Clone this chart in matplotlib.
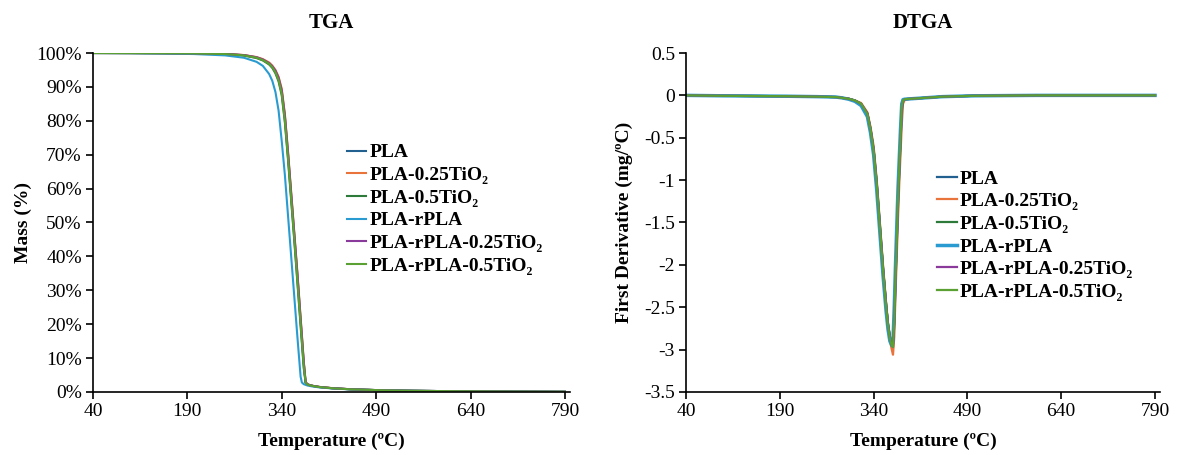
import matplotlib
matplotlib.use('Agg')
import matplotlib.pyplot as plt
from matplotlib.ticker import FuncFormatter

plt.rcParams['font.family'] = ['Liberation Serif', 'DejaVu Serif']
plt.rcParams['axes.unicode_minus'] = False

LABELS = ['PLA', 'PLA-0.25TiO₂', 'PLA-0.5TiO₂', 'PLA-rPLA',
          'PLA-rPLA-0.25TiO₂', 'PLA-rPLA-0.5TiO₂']
COLORS = ['#21608f', '#e8743b', '#2d7a3a', '#2a9bd0', '#8a3a9a', '#5aa032']

# TGA: temperature (C) and residual mass (%)
T_TGA = [40, 100, 150, 200, 250, 280, 300, 310, 320, 325, 330, 335, 340, 345,
         350, 355, 360, 365, 370, 372, 375, 378, 381, 385, 390, 400, 420, 450,
         500, 550, 600, 700, 790]
mass_pla = [100, 99.98, 99.95, 99.9, 99.72, 99.35, 98.7, 98.0, 96.9, 95.9, 94.5,
            92.3, 88.5, 81, 70, 58, 46, 34, 21, 16, 8.5, 2.8, 2.25, 2.0, 1.78,
            1.48, 1.12, 0.8, 0.5, 0.35, 0.25, 0.12, 0.05]
mass_pla_025 = [100, 99.98, 99.95, 99.9, 99.75, 99.4, 98.8, 98.2, 97.2, 96.3, 95,
                93, 89.5, 82, 71, 59, 47, 35, 22, 17, 9, 2.9, 2.3, 2.0, 1.8, 1.5,
                1.15, 0.8, 0.5, 0.35, 0.25, 0.12, 0.05]
mass_pla_05 = [100, 99.98, 99.94, 99.87, 99.68, 99.25, 98.5, 97.8, 96.6, 95.6, 94,
               91.6, 87.5, 79.5, 68.5, 56.5, 44.5, 32, 19.5, 14.5, 7, 2.7, 2.2,
               1.95, 1.75, 1.45, 1.1, 0.78, 0.5, 0.35, 0.25, 0.12, 0.05]
mass_rpla = [100, 99.95, 99.85, 99.7, 99.3, 98.6, 97.4, 96.2, 93.8, 91.8, 88.5, 83,
             74, 64, 52, 40, 28, 16, 4.5, 2.8, 2.3, 2.1, 1.9, 1.75, 1.6, 1.35,
             1.05, 0.75, 0.5, 0.35, 0.25, 0.12, 0.05]
mass_rpla_025 = [100, 99.98, 99.95, 99.9, 99.73, 99.38, 98.75, 98.1, 97.0, 96.1,
                 94.8, 92.7, 89, 81.5, 70.5, 58.5, 46.5, 34.5, 21.5, 16.5, 8.8,
                 2.85, 2.25, 2.0, 1.78, 1.48, 1.12, 0.8, 0.5, 0.35, 0.25, 0.12,
                 0.05]
mass_rpla_05 = [100, 99.98, 99.95, 99.88, 99.7, 99.3, 98.6, 97.9, 96.8, 95.8, 94.3,
                92, 88, 80, 69, 57, 45, 32.5, 20, 15, 7.5, 2.7, 2.2, 1.95, 1.75,
                1.45, 1.1, 0.78, 0.5, 0.35, 0.25, 0.12, 0.05]

# DTGA: first derivative (mg/C)
T_DTGA = [40, 100, 200, 250, 280, 290, 300, 310, 320, 330, 335, 340, 345, 350,
          355, 360, 363, 366, 369, 371, 373, 375, 377, 379, 381, 383, 385, 387,
          390, 400, 420, 450, 500, 600, 700, 790]
d_pla = [0, -0.005, -0.01, -0.015, -0.02, -0.03, -0.04, -0.06, -0.1, -0.22, -0.4,
         -0.66, -1.06, -1.56, -2.05, -2.48, -2.7, -2.84, -2.91, -2.92, -2.62,
         -2.13, -1.68, -1.21, -0.85, -0.5, -0.14, -0.06, -0.045, -0.04, -0.03,
         -0.015, -0.005, 0, 0, 0]
d_pla_025 = [0, -0.005, -0.01, -0.015, -0.02, -0.03, -0.04, -0.06, -0.09, -0.2,
             -0.37, -0.6, -1.0, -1.5, -2.0, -2.45, -2.7, -2.88, -3.0, -3.06, -2.85,
             -2.35, -1.9, -1.45, -1.05, -0.7, -0.35, -0.1, -0.05, -0.04, -0.03,
             -0.015, -0.005, 0, 0, 0]
d_pla_05 = [0, -0.005, -0.01, -0.015, -0.02, -0.03, -0.04, -0.06, -0.1, -0.22,
            -0.4, -0.65, -1.05, -1.55, -2.04, -2.47, -2.69, -2.84, -2.92, -2.93,
            -2.63, -2.14, -1.69, -1.22, -0.86, -0.5, -0.14, -0.06, -0.045, -0.04,
            -0.03, -0.015, -0.005, 0, 0, 0]
d_rpla = [0, -0.005, -0.01, -0.015, -0.02, -0.03, -0.045, -0.07, -0.12, -0.25,
          -0.44, -0.7, -1.12, -1.62, -2.12, -2.55, -2.76, -2.9, -2.95, -2.9,
          -2.5, -2.0, -1.55, -1.1, -0.75, -0.4, -0.1, -0.05, -0.045, -0.04,
          -0.03, -0.015, -0.005, 0, 0, 0]
d_rpla_025 = [0, -0.005, -0.01, -0.015, -0.02, -0.03, -0.04, -0.06, -0.1, -0.21,
              -0.39, -0.63, -1.03, -1.53, -2.03, -2.47, -2.71, -2.86, -2.95, -2.97,
              -2.7, -2.2, -1.75, -1.28, -0.9, -0.55, -0.18, -0.07, -0.045, -0.04,
              -0.03, -0.015, -0.005, 0, 0, 0]
d_rpla_05 = [0, -0.005, -0.01, -0.015, -0.02, -0.03, -0.04, -0.06, -0.1, -0.22,
             -0.4, -0.65, -1.05, -1.55, -2.05, -2.5, -2.72, -2.87, -2.95, -2.97,
             -2.65, -2.15, -1.7, -1.22, -0.86, -0.5, -0.13, -0.06, -0.045, -0.04,
             -0.03, -0.015, -0.005, 0, 0, 0]

masses = [mass_pla, mass_pla_025, mass_pla_05, mass_rpla, mass_rpla_025, mass_rpla_05]
derivs = [d_pla, d_pla_025, d_pla_05, d_rpla, d_rpla_025, d_rpla_05]

X_TICKS = [40, 190, 340, 490, 640, 790]

fig = plt.figure(figsize=(11.81, 4.55), dpi=100)
ax1 = fig.add_axes([0.0787, 0.1385, 0.4039, 0.745])
ax2 = fig.add_axes([0.5809, 0.1385, 0.4013, 0.745])

for m, lab, col in zip(masses, LABELS, COLORS):
    ax1.plot(T_TGA, m, color=col, lw=1.5, label=lab)
for d, lab, col in zip(derivs, LABELS, COLORS):
    lw = 2.5 if lab == 'PLA-rPLA' else 1.6
    ax2.plot(T_DTGA, d, color=col, lw=lw, label=lab)

ax1.set_ylim(0, 100)
ax1.set_yticks(range(0, 101, 10))
ax1.yaxis.set_major_formatter(FuncFormatter(lambda v, p: f'{v:.0f}%'))
ax2.set_ylim(-3.5, 0.5)
ax2.set_yticks([0.5, 0, -0.5, -1, -1.5, -2, -2.5, -3, -3.5])
ax2.yaxis.set_major_formatter(FuncFormatter(lambda v, p: f'{v:g}'))

for ax in (ax1, ax2):
    ax.set_xlim(40, 798)
    ax.set_xticks(X_TICKS)
    ax.spines['top'].set_visible(False)
    ax.spines['right'].set_visible(False)
    ax.spines['left'].set_linewidth(1.2)
    ax.spines['bottom'].set_linewidth(1.2)
    ax.tick_params(direction='out', length=5, width=1.2, labelsize=14, pad=3)
    ax.set_xlabel('Temperature (ºC)', fontsize=14, fontweight='bold', labelpad=9)

ax1.set_ylabel('Mass (%)', fontsize=14, fontweight='bold', labelpad=3)
ax2.set_ylabel('First Derivative (mg/ºC)', fontsize=14, fontweight='bold', labelpad=8)
ax1.set_title('TGA', fontsize=15, fontweight='bold', pad=18)
ax2.set_title('DTGA', fontsize=15, fontweight='bold', pad=18)

leg_kw = dict(frameon=False, loc='upper left', borderaxespad=0, handlelength=1.0,
              handletextpad=0.15, labelspacing=0.26, prop={'size': 14, 'weight': 'bold'})
ax1.legend(bbox_to_anchor=(0.516, 0.755), **leg_kw)
ax2.legend(bbox_to_anchor=(0.514, 0.678), **leg_kw)

fig.savefig('out.png', dpi=100)
